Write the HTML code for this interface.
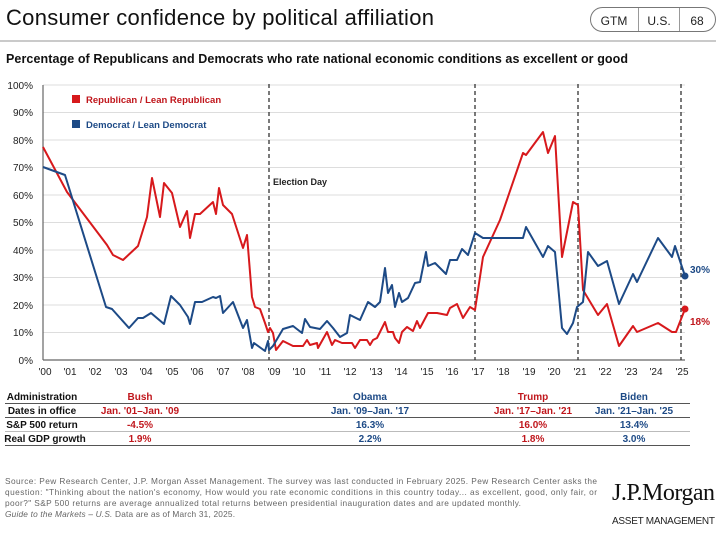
<!DOCTYPE html>
<html><head><meta charset="utf-8"><style>
body{margin:0;background:#fff;width:720px;height:532px;overflow:hidden;font-family:"Liberation Sans",sans-serif}
</style></head><body>
<svg width="720" height="532" xmlns="http://www.w3.org/2000/svg" font-family="Liberation Sans, sans-serif">
<text x="6" y="25" font-size="22" fill="#111" textLength="428">Consumer confidence by political affiliation</text>
<rect x="590.5" y="7.5" width="125" height="24" rx="12" fill="none" stroke="#777"/>
<line x1="638.5" y1="8" x2="638.5" y2="31" stroke="#999"/>
<line x1="679.5" y1="8" x2="679.5" y2="31" stroke="#999"/>
<text x="614" y="25" font-size="12" text-anchor="middle" fill="#222">GTM</text>
<text x="659" y="25" font-size="12" text-anchor="middle" fill="#222">U.S.</text>
<text x="697" y="25" font-size="12" text-anchor="middle" fill="#222">68</text>
<line x1="0" y1="41" x2="716" y2="41" stroke="#aaa" stroke-width="1.2"/>
<text x="6" y="63" font-size="12.5" font-weight="bold" fill="#111" textLength="622">Percentage of Republicans and Democrats who rate national economic conditions as excellent or good</text>
<g stroke="#ddd" stroke-width="1">
<line x1="43" y1="85" x2="685" y2="85"/><line x1="43" y1="112.5" x2="685" y2="112.5"/><line x1="43" y1="140" x2="685" y2="140"/><line x1="43" y1="167.5" x2="685" y2="167.5"/><line x1="43" y1="195" x2="685" y2="195"/><line x1="43" y1="222.5" x2="685" y2="222.5"/><line x1="43" y1="250" x2="685" y2="250"/><line x1="43" y1="277.5" x2="685" y2="277.5"/><line x1="43" y1="305" x2="685" y2="305"/><line x1="43" y1="332.5" x2="685" y2="332.5"/>
</g>
<line x1="43" y1="85" x2="43" y2="360" stroke="#666" stroke-width="1.2"/>
<line x1="43" y1="360" x2="685" y2="360" stroke="#666" stroke-width="1.2"/>
<g font-size="10" fill="#222" text-anchor="end">
<text x="33" y="89">100%</text><text x="33" y="116">90%</text><text x="33" y="144">80%</text><text x="33" y="171">70%</text><text x="33" y="199">60%</text><text x="33" y="226">50%</text><text x="33" y="254">40%</text><text x="33" y="281">30%</text><text x="33" y="309">20%</text><text x="33" y="336">10%</text><text x="33" y="364">0%</text>
</g>
<g font-size="10" fill="#222" text-anchor="middle">
<text x="45" y="375">'00</text><text x="70" y="375">'01</text><text x="95" y="375">'02</text><text x="121" y="375">'03</text><text x="146" y="375">'04</text><text x="172" y="375">'05</text><text x="197" y="375">'06</text><text x="223" y="375">'07</text><text x="248" y="375">'08</text><text x="274" y="375">'09</text><text x="299" y="375">'10</text><text x="325" y="375">'11</text><text x="350" y="375">'12</text><text x="376" y="375">'13</text><text x="401" y="375">'14</text><text x="427" y="375">'15</text><text x="452" y="375">'16</text><text x="478" y="375">'17</text><text x="503" y="375">'18</text><text x="529" y="375">'19</text><text x="554" y="375">'20</text><text x="580" y="375">'21</text><text x="605" y="375">'22</text><text x="631" y="375">'23</text><text x="656" y="375">'24</text><text x="682" y="375">'25</text>
</g>
<g stroke="#333" stroke-width="1.3" stroke-dasharray="4,3">
<line x1="269" y1="84" x2="269" y2="360"/><line x1="475" y1="84" x2="475" y2="360"/><line x1="578" y1="84" x2="578" y2="360"/><line x1="681" y1="84" x2="681" y2="360"/>
</g>
<text x="273" y="185" font-size="9" font-weight="bold" fill="#222">Election Day</text>
<rect x="72" y="95" width="8" height="8" fill="#d7191c"/>
<text x="86" y="103" font-size="9.5" font-weight="bold" fill="#c0161c">Republican / Lean Republican</text>
<rect x="72" y="120" width="8" height="8" fill="#1d4a86"/>
<text x="86" y="128" font-size="9.5" font-weight="bold" fill="#1d4a86">Democrat / Lean Democrat</text>
<polyline fill="none" stroke="#d7191c" stroke-width="2" stroke-linejoin="round" points="43,147 67,192 107,245 113,255 123,260 138,246 147,217 152,178 160,217 164,183 172,193 180,227 187,211 190,238 195,214 200,214 213,202 216,214 219,188 223,205 232,214 243,248 247,235 252,297 255,307 260,309 265,323 268,332 270,328 273,333 276,350 283,341 293,346 303,346 307,340 310,345 317,343 318,348 327,332 332,345 335,340 342,343 352,343 355,348 360,340 367,340 370,345 373,340 377,338 385,322 388,332 393,332 395,338 399,343 402,332 407,327 413,331 417,321 420,328 428,313 437,313 447,315 450,308 457,304 463,318 470,307 475,310 483,257 500,220 523,153 526,155 543,132 548,153 555,136 562,257 573,202 578,205 583,290 598,315 607,304 619,346 633,326 637,332 658,323 672,332 676,332 685,309"/>
<polyline fill="none" stroke="#1d4a86" stroke-width="2" stroke-linejoin="round" points="43,167 65,175 106,307 112,309 129,328 138,318 143,318 151,313 164,324 171,296 180,305 188,317 190,324 195,302 202,302 213,297 216,298 220,296 223,313 233,302 243,328 247,320 252,348 254,343 265,351 268,341 269,350 273,346 283,329 293,326 302,333 305,319 310,327 320,329 327,321 333,328 340,337 347,333 350,315 360,320 368,302 375,307 380,302 385,268 388,293 392,285 395,307 399,293 402,302 408,298 415,283 420,282 426,252 428,266 435,263 446,274 450,260 457,260 462,249 468,255 475,233 483,238 523,238 526,227 543,257 548,246 555,252 562,328 567,334 573,323 577,307 583,302 588,252 598,266 607,261 619,304 633,274 637,282 658,238 672,257 675,246 685,276"/>
<circle cx="685" cy="276" r="3.5" fill="#1d4a86"/>
<circle cx="685" cy="309" r="3.5" fill="#d7191c"/>
<text x="690" y="273" font-size="10" font-weight="bold" fill="#1d4a86">30%</text>
<text x="690" y="325" font-size="10" font-weight="bold" fill="#c0161c">18%</text>
<g stroke="#555" stroke-width="1">
<line x1="5" y1="403.5" x2="690" y2="403.5"/><line x1="5" y1="417.5" x2="690" y2="417.5"/><line x1="5" y1="431.5" x2="690" y2="431.5" stroke="#bbb"/><line x1="5" y1="445.5" x2="690" y2="445.5"/>
</g>
<g font-size="10" font-weight="bold" text-anchor="middle">
<text x="42" y="400" fill="#111">Administration</text>
<text x="140" y="400" fill="#c0161c">Bush</text>
<text x="370" y="400" fill="#1d4a86">Obama</text>
<text x="533" y="400" fill="#c0161c">Trump</text>
<text x="634" y="400" fill="#1d4a86">Biden</text>
<text x="42" y="414" fill="#111">Dates in office</text>
<text x="140" y="414" fill="#c0161c">Jan. '01–Jan. '09</text>
<text x="370" y="414" fill="#1d4a86">Jan. '09–Jan. '17</text>
<text x="533" y="414" fill="#c0161c">Jan. '17–Jan. '21</text>
<text x="634" y="414" fill="#1d4a86">Jan. '21–Jan. '25</text>
<text x="42" y="428" fill="#111">S&amp;P 500 return</text>
<text x="140" y="428" fill="#c0161c">-4.5%</text>
<text x="370" y="428" fill="#1d4a86">16.3%</text>
<text x="533" y="428" fill="#c0161c">16.0%</text>
<text x="634" y="428" fill="#1d4a86">13.4%</text>
<text x="45" y="442" fill="#111">Real GDP growth</text>
<text x="140" y="442" fill="#c0161c">1.9%</text>
<text x="370" y="442" fill="#1d4a86">2.2%</text>
<text x="533" y="442" fill="#c0161c">1.8%</text>
<text x="634" y="442" fill="#1d4a86">3.0%</text>
</g>
<g font-size="8.3" fill="#666">
<text x="5" y="484" textLength="592">Source: Pew Research Center, J.P. Morgan Asset Management. The survey was last conducted in February 2025. Pew Research Center asks the</text>
<text x="5" y="495" textLength="592">question: "Thinking about the nation's economy, How would you rate economic conditions in this country today... as excellent, good, only fair, or</text>
<text x="5" y="506" textLength="516">poor?" S&amp;P 500 returns are average annualized total returns between presidential inauguration dates and are updated monthly.</text>
<text x="5" y="517" textLength="230"><tspan font-style="italic">Guide to the Markets – U.S.</tspan> Data are as of March 31, 2025.</text>
</g>
<text x="612" y="500" font-family="Liberation Serif, serif" font-size="24" fill="#111" textLength="103">J.P.Morgan</text>
<text x="612" y="524" font-size="10" fill="#222" textLength="103">ASSET MANAGEMENT</text>
</svg>
</body></html>
